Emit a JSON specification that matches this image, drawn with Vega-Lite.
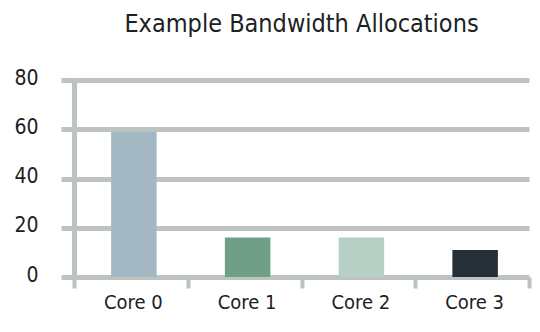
{
  "$schema": "https://vega.github.io/schema/vega-lite/v6.json",
  "width": 455,
  "height": 197,
  "autosize": "none",
  "padding": {"left": 74, "top": 80, "right": 11, "bottom": 55},
  "background": "white",
  "title": {
    "text": "Example Bandwidth Allocations",
    "font": "Liberation Sans Narrow, DejaVu Sans Condensed, sans-serif",
    "fontSize": 25,
    "fontWeight": "normal",
    "color": "#1b2224",
    "anchor": "middle",
    "offset": 30
  },
  "config": {
    "view": {"stroke": null},
    "font": "Liberation Sans Narrow, DejaVu Sans Condensed, sans-serif"
  },
  "data": {
    "values": [
      {"core": "Core 0", "value": 59},
      {"core": "Core 1", "value": 16},
      {"core": "Core 2", "value": 16},
      {"core": "Core 3", "value": 11}
    ]
  },
  "mark": {"type": "bar", "width": {"band": 0.4}, "xOffset": 3},
  "encoding": {
    "x": {
      "field": "core",
      "type": "nominal",
      "sort": null,
      "scale": {"paddingInner": 0, "paddingOuter": 0},
      "axis": {
        "title": null,
        "labelAngle": 0,
        "labelFontSize": 20,
        "labelColor": "#1b2224",
        "labelPadding": 4,
        "labelOffset": 2,
        "tickBand": "extent",
        "ticks": true,
        "tickSize": 11,
        "tickWidth": 4,
        "tickColor": "#bcc3c0",
        "domain": false,
        "grid": false
      }
    },
    "y": {
      "field": "value",
      "type": "quantitative",
      "scale": {"domain": [0, 80]},
      "axis": {
        "title": null,
        "values": [0, 20, 40, 60, 80],
        "labelFontSize": 21,
        "labelColor": "#1b2224",
        "labelPadding": 23,
        "labelOffset": -2,
        "tickSize": 13,
        "tickWidth": 5,
        "tickColor": "#bcc3c0",
        "domain": true,
        "domainWidth": 5,
        "domainColor": "#bcc3c0",
        "grid": true,
        "gridWidth": 5,
        "gridColor": "#bcc3c0",
        "gridOpacity": 1
      }
    },
    "color": {
      "field": "core",
      "type": "nominal",
      "sort": null,
      "scale": {"range": ["#a3b8c2", "#6f9f87", "#b7d0c5", "#252f37"]},
      "legend": null
    }
  }
}
